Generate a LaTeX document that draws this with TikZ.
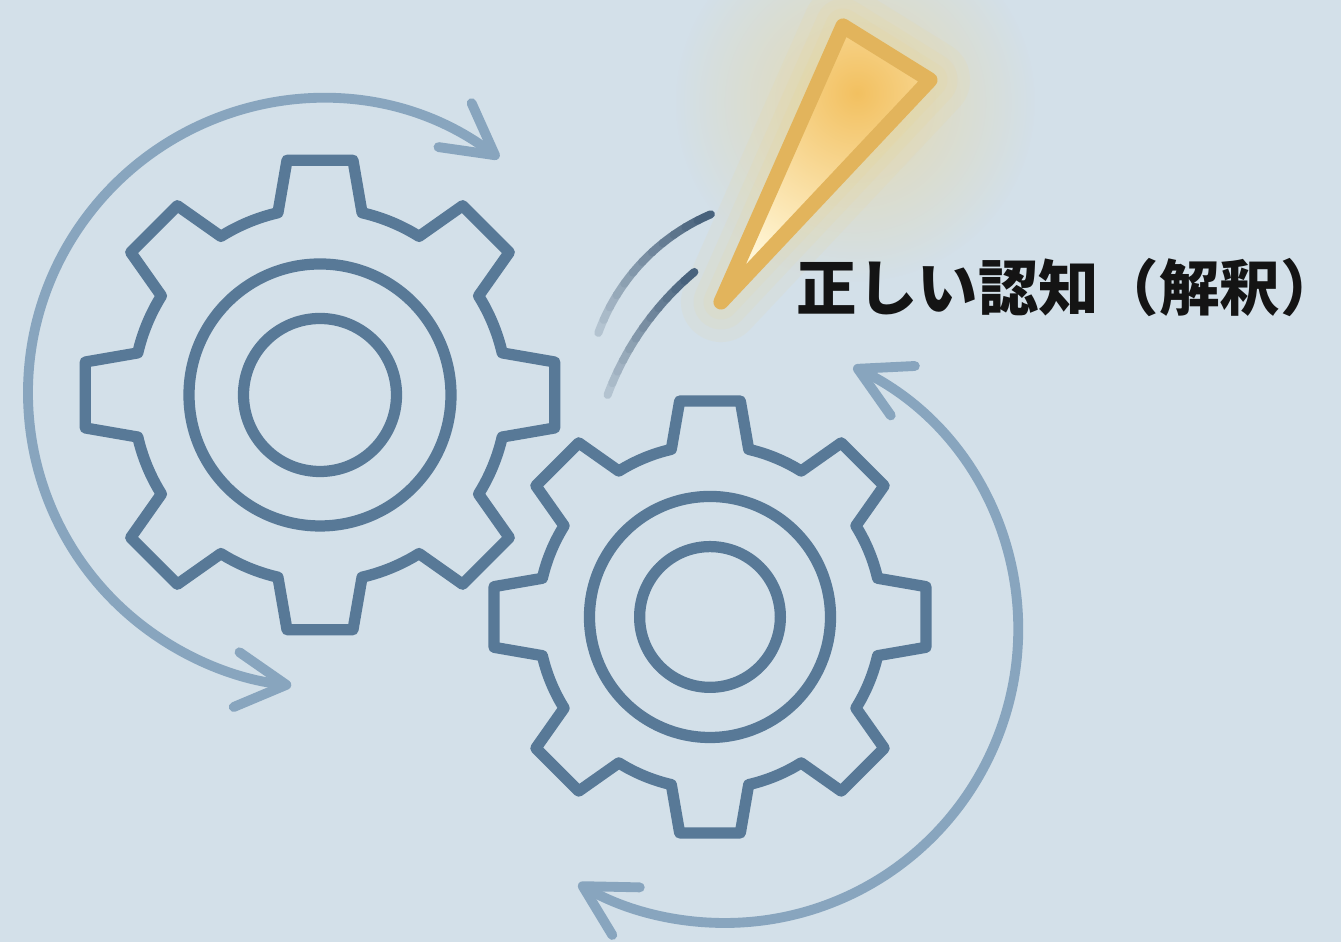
\documentclass[tikz,border=0pt]{standalone}
\usepackage{fontspec}
\newfontfamily\jpfont{Noto Sans CJK JP}
\usetikzlibrary {arrows.meta}
\usetikzlibrary {fadings}

\definecolor{bgblue}{RGB}{211,224,233}
\definecolor{gearblue}{RGB}{88,121,151}
\definecolor{turnblue}{RGB}{136,165,190}
\definecolor{swishblue}{RGB}{72,98,124}
\definecolor{wedgegold}{RGB}{226,180,92}
\definecolor{wedgefill}{RGB}{242,192,96}
\definecolor{wedgecream}{RGB}{255,246,214}
\definecolor{glowgold}{RGB}{250,208,105}

\tikzfading[name=glowfade, inner color=transparent!55, outer color=transparent!100]

\begin{document}
\begin{tikzpicture} [
        gearline/.style={draw=gearblue, line width=3.2pt, line join=round},
        turn/.style={draw=turnblue, line width=2.8pt, line cap=round,
            >={Straight Barb[length=5mm, width=5.5mm, round]}, <->},
        swish/.style={line width=2.3pt, line cap=round},
        wedge/.style={draw=wedgegold, line width=4.3pt, line join=round},
        insight/.style={font=\jpfont\bfseries\fontsize{17.2pt}{21pt}\selectfont,
            text=black!92, inner sep=0pt},
        gear/.pic={
            \draw[gearline] (-32:1.87)
                \foreach \a in {0,45,...,315} {
                    arc[start angle=\a-32, end angle=\a-13, radius=1.87]
                    -- (\a-8:2.37) -- (\a+8:2.37) -- (\a+13:1.87)
                } -- cycle;
            \draw[gearline] (0,0) circle (1.31);
            \draw[gearline] (0,0) circle (0.765);
        } ]
    \useasboundingbox (0,0) rectangle (13.41,9.42);
    \fill[bgblue] (0,0) rectangle (13.41,9.42);

    \coordinate (gearA) at (3.20,5.47);
    \coordinate (gearB) at (7.10,3.25);
    \coordinate (turnA) at (3.22,5.49);
    \coordinate (turnB) at (7.25,3.12);
    \coordinate (swishA) at (7.91,5.39);
    \coordinate (swishB) at (8.84,4.44);
    \coordinate (wtop) at (8.43,9.16);
    \coordinate (wright) at (9.30,8.62);
    \coordinate (wtip) at (7.21,6.40);

    % glow and wedge
    \fill[glowgold, path fading=glowfade] (8.55,8.40) circle (1.8);
    \foreach \w in {0.8,0.55,0.35}
        \draw[glowgold, opacity=0.07, line width=\w cm, line join=round]
            (wtop) -- (wright) -- (wtip) -- cycle;
    \begin{scope}
        \clip (wtop) -- (wright) -- (wtip) -- cycle;
        \fill[wedgecream] (wtop) -- (wright) -- (wtip) -- cycle;
        \shade[inner color=wedgefill, outer color=wedgecream] (8.57,8.49) circle (1.9);
    \end{scope}
    \draw[wedge] (wtop) -- (wright) -- (wtip) -- cycle;

    % turning arrows
    \draw[turn] (turnA) ++(53:2.94) arc[start angle=53, end angle=264, radius=2.94];
    \draw[turn] (turnB) ++(64:2.93) arc[start angle=64, end angle=-120, radius=2.93];

    % gears
    \pic at (gearA) {gear};
    \pic[scale=0.92] at (gearB) {gear};

    % motion lines, faint end first
    \foreach \i [evaluate=\i as \p using int(100-7*\i)] in {11,10,...,0}
        \draw[swish, swishblue!\p!bgblue] (swishA) ++(113+\i*3.9:2.05)
            arc[start angle=113+\i*3.9, end angle=113+\i*3.9+4.1, radius=2.05];
    \foreach \i [evaluate=\i as \p using int(100-7*\i)] in {11,10,...,0}
        \draw[swish, swishblue!\p!bgblue] (swishB) ++(130+\i*2.45:2.95)
            arc[start angle=130+\i*2.45, end angle=130+\i*2.45+2.6, radius=2.95];

    \node[insight, anchor=west] (insight) at (7.96,6.54) {正しい認知（解釈）};
\end{tikzpicture}
\end{document}
